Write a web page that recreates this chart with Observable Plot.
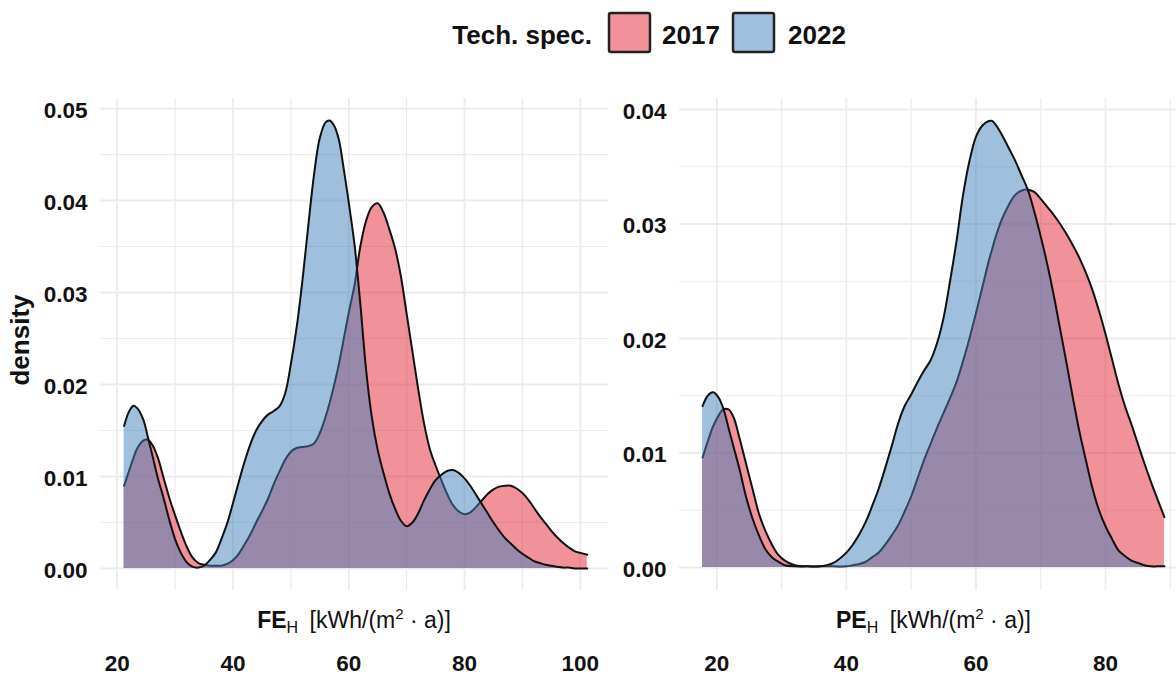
<!DOCTYPE html>
<html><head><meta charset="utf-8">
<script src="https://cdn.jsdelivr.net/npm/d3@7"></script>
<script src="https://cdn.jsdelivr.net/npm/@observablehq/plot@0.6"></script>
<style>
html,body{margin:0;padding:0;background:#fff;}
#wrap{position:relative;width:1176px;height:676px;overflow:hidden;font-family:"Liberation Sans",Arial,sans-serif;}
#wrap > svg{position:absolute;top:0;}
</style></head><body><div id="wrap"></div>
<script>
// ---- data ----
const seriesNames = ["2017", "2022"];
const seriesColors = ["#E42335", "#3F80B9"];
const legendTitle = "Tech. spec.";

// Panel 1: FE_H
const feX = [21.2,22,22.8,23.5,24.5,25.3,26.2,27,28,29,30,31,32,33,34,35,36,37,38,39,40,41,42,43,44,45,46,47,48,49,50,51,52,53,54,55,56,56.7,57.5,58.3,59,60,61,61.4,62,63,64,65,66,67,68,69,70,71,72,73,74,75,76,77,78,79,80,81,82,83,84,85,86,87,88,89,90,91,92,93,94,95,96,97,98,99,100,101.2];
const fe2017 = [0.0090,0.0105,0.0120,0.0131,0.0139,0.0140,0.0133,0.0121,0.0099,0.0077,0.0058,0.0040,0.0024,0.0012,0.0006,0.0004,0.0003,0.0003,0.0003,0.0005,0.0009,0.0016,0.0026,0.0037,0.0050,0.0062,0.0075,0.0091,0.0105,0.0118,0.0127,0.0131,0.0132,0.0133,0.0136,0.0147,0.0165,0.0180,0.0200,0.0222,0.0245,0.0278,0.0308,0.0325,0.0350,0.0378,0.0393,0.0397,0.0387,0.0369,0.0348,0.0318,0.0277,0.0236,0.0195,0.0158,0.0130,0.0112,0.0096,0.0081,0.0069,0.0062,0.0059,0.0061,0.0067,0.0074,0.0081,0.0086,0.0089,0.0090,0.0090,0.0087,0.0082,0.0075,0.0066,0.0057,0.0049,0.0041,0.0034,0.0028,0.0023,0.0019,0.0017,0.0015];
const fe2022 = [0.0155,0.0170,0.0177,0.0174,0.0162,0.0143,0.0120,0.0099,0.0077,0.0053,0.0032,0.0017,0.0007,0.0002,0.0001,0.0003,0.0009,0.0017,0.0032,0.0049,0.0071,0.0094,0.0116,0.0135,0.0150,0.0160,0.0167,0.0171,0.0176,0.0190,0.0222,0.0262,0.0313,0.0372,0.0428,0.0468,0.0485,0.0487,0.0481,0.0466,0.0440,0.0398,0.0352,0.0328,0.0288,0.0216,0.0164,0.0129,0.0104,0.0082,0.0065,0.0052,0.0046,0.0050,0.0060,0.0074,0.0086,0.0096,0.0102,0.0106,0.0107,0.0104,0.0098,0.0090,0.0080,0.0070,0.0060,0.0050,0.0041,0.0033,0.0027,0.0021,0.0016,0.0012,0.0008,0.0006,0.0004,0.0003,0.0002,0.0001,0.0001,0.0000,0.0000,0.0000];

// Panel 2: PE_H
const peX = [17.8,18.6,19.4,20.2,21,21.8,22.6,23.5,24.5,25.5,26.5,27.5,28.5,29.5,30.5,32,34,36,38,40,41,42,43,44,45,46,47,48,49,50,51,52,53,54,55,56,57,58,59,60,61,62,62.5,63,64,65,66,67,68,69,70,71,72,73,74,75,76,77,78,79,80,81,82,83,84,85,86,87,88,89.1];
const pe2017 = [0.0096,0.0110,0.0123,0.0132,0.0138,0.0138,0.0131,0.0113,0.0091,0.0069,0.0047,0.0032,0.0020,0.0011,0.0006,0.0002,0.0001,0.0001,0.0001,0.0001,0.0002,0.0003,0.0005,0.0009,0.0013,0.0020,0.0028,0.0037,0.0049,0.0062,0.0078,0.0094,0.0108,0.0122,0.0135,0.0148,0.0162,0.0180,0.0200,0.0222,0.0245,0.0268,0.0278,0.0288,0.0304,0.0316,0.0325,0.0329,0.0330,0.0328,0.0322,0.0315,0.0308,0.0300,0.0291,0.0281,0.0270,0.0257,0.0242,0.0224,0.0204,0.0182,0.0160,0.0141,0.0125,0.0108,0.0091,0.0075,0.0060,0.0044];
const pe2022 = [0.0141,0.0150,0.0153,0.0149,0.0139,0.0122,0.0105,0.0086,0.0062,0.0043,0.0028,0.0016,0.0009,0.0005,0.0002,0.0001,0.0001,0.0001,0.0004,0.0013,0.0020,0.0029,0.0040,0.0054,0.0069,0.0087,0.0106,0.0126,0.0141,0.0151,0.0162,0.0172,0.0181,0.0196,0.0218,0.0250,0.0285,0.0325,0.0355,0.0376,0.0386,0.0390,0.0390,0.0387,0.0378,0.0367,0.0356,0.0343,0.0330,0.0311,0.0289,0.0265,0.0238,0.0208,0.0178,0.0147,0.0118,0.0093,0.0069,0.0050,0.0036,0.0025,0.0015,0.0010,0.0006,0.0004,0.0002,0.0001,0.0001,0.0001];

// ticks
const feXTicks = [20, 40, 60, 80, 100];
const feXMinor = [30, 50, 70, 90];
const feYTicks = [0, 0.01, 0.02, 0.03, 0.04, 0.05];
const feYMinor = [0.005, 0.015, 0.025, 0.035, 0.045];
const peXTicks = [20, 40, 60, 80];
const peXMinor = [30, 50, 70, 90];
const peYTicks = [0, 0.01, 0.02, 0.03, 0.04];
const peYMinor = [0.005, 0.015, 0.025, 0.035];
const yTitle = "density";

// ---- drawing ----
const wrap = document.getElementById("wrap");
const FONT = '"Liberation Sans", Arial, sans-serif';

function rowsOf(xs, ys) { return xs.map((x, i) => ({x, y: ys[i]})); }

function panel(o) {
  const r17 = rowsOf(o.xs, o.y17), r22 = rowsOf(o.xs, o.y22);
  const grid = {stroke: "#EBEBEB", strokeOpacity: 1};
  const svg = Plot.plot({
    width: o.width, height: 676,
    marginTop: 98, marginBottom: 86, marginLeft: o.marginLeft, marginRight: o.marginRight,
    x: {domain: o.xDomain, axis: null},
    y: {domain: o.yDomain, axis: null},
    style: {fontFamily: FONT, background: "transparent", color: "#111", maxWidth: "none", overflow: "visible"},
    marks: [
      Plot.gridY(o.yMinor, {...grid, strokeWidth: 1.2}),
      Plot.gridX(o.xMinor, {...grid, strokeWidth: 1.2}),
      Plot.gridY(o.yTicks, {...grid, strokeWidth: 1.8}),
      Plot.gridX(o.xTicks, {...grid, strokeWidth: 1.8}),
      Plot.areaY(r17, {x: "x", y: "y", fill: seriesColors[0], fillOpacity: 0.5, curve: "catmull-rom"}),
      Plot.lineY(r17, {x: "x", y: "y", stroke: "#111", strokeWidth: 2, curve: "catmull-rom"}),
      Plot.areaY(r22, {x: "x", y: "y", fill: seriesColors[1], fillOpacity: 0.5, curve: "catmull-rom"}),
      Plot.lineY(r22, {x: "x", y: "y", stroke: "#111", strokeWidth: 2, curve: "catmull-rom"}),
      Plot.axisY(o.yTicks, {tickSize: 0, tickPadding: 13, tickFormat: d3.format(".2f"), fontSize: 22.5, fontWeight: "bold", label: null, dy: 2}),
      Plot.axisX(o.xTicks, {tickSize: 0, tickPadding: 65, fontSize: 22.5, fontWeight: "bold", label: null})
    ]
  });
  svg.style.left = o.left + "px";
  // axis title with sub/superscripts
  const s = d3.select(svg);
  const cx = o.marginLeft + (o.width - o.marginLeft - o.marginRight) / 2 + (o.titleShift || 0);
  const t = s.append("text").attr("x", cx).attr("y", 628).attr("text-anchor", "middle")
    .attr("font-size", 23).attr("fill", "#111").attr("font-family", FONT);
  t.append("tspan").attr("font-weight", "bold").text(o.titleMain);
  t.append("tspan").attr("font-size", 16).attr("dy", 5).text("H");
  t.append("tspan").attr("dy", -5).text("\u2002[kWh/(m");
  t.append("tspan").attr("font-size", 15).attr("dy", -9).text("2");
  t.append("tspan").attr("dy", 9).text(" \u00B7 a)]");
  if (o.yTitle) {
    s.append("text").attr("transform", "translate(29,340) rotate(-90)").attr("text-anchor", "middle")
      .attr("font-size", 26).attr("font-weight", "bold").attr("fill", "#111").attr("font-family", FONT).text(o.yTitle);
  }
  wrap.appendChild(svg);
}

// left panel: domain chosen so 20 -> px 116.7, 100 -> px 579.8
panel({xs: feX, y17: fe2017, y22: fe2022, left: 0, width: 640, marginLeft: 100, marginRight: 32,
  xDomain: [17.12, 104.87], yDomain: [-0.00239, 0.05109],
  xTicks: feXTicks, xMinor: feXMinor, yTicks: feYTicks, yMinor: feYMinor, titleMain: "FE", yTitle});
// right panel (cut by the window at the right edge)
panel({xs: peX, y17: pe2017, y22: pe2022, left: 608, width: 580, marginLeft: 71, marginRight: 0,
  xDomain: [14.24, 92.81], yDomain: [-0.00201, 0.04096], titleShift: 0,
  xTicks: peXTicks, xMinor: peXMinor, yTicks: peYTicks, yMinor: peYMinor, titleMain: "PE", yTitle: null});

// legend
const lg = d3.select(wrap).append("svg").attr("width", 1176).attr("height", 70).style("left", "0px")
  .attr("font-family", FONT);
lg.append("text").attr("x", 592).attr("y", 44).attr("text-anchor", "end").attr("font-size", 26)
  .attr("font-weight", "bold").attr("fill", "#111").text(legendTitle);
const swX = [609, 733], txX = [662, 788];
seriesNames.forEach((n, i) => {
  lg.append("rect").attr("x", swX[i]).attr("y", 13).attr("width", 41).attr("height", 39).attr("rx", 2)
    .attr("fill", seriesColors[i]).attr("fill-opacity", 0.5).attr("stroke", "#222").attr("stroke-width", 2.5);
  lg.append("text").attr("x", txX[i]).attr("y", 44).attr("font-size", 26).attr("font-weight", "bold")
    .attr("fill", "#111").text(n);
});
</script></body></html>
